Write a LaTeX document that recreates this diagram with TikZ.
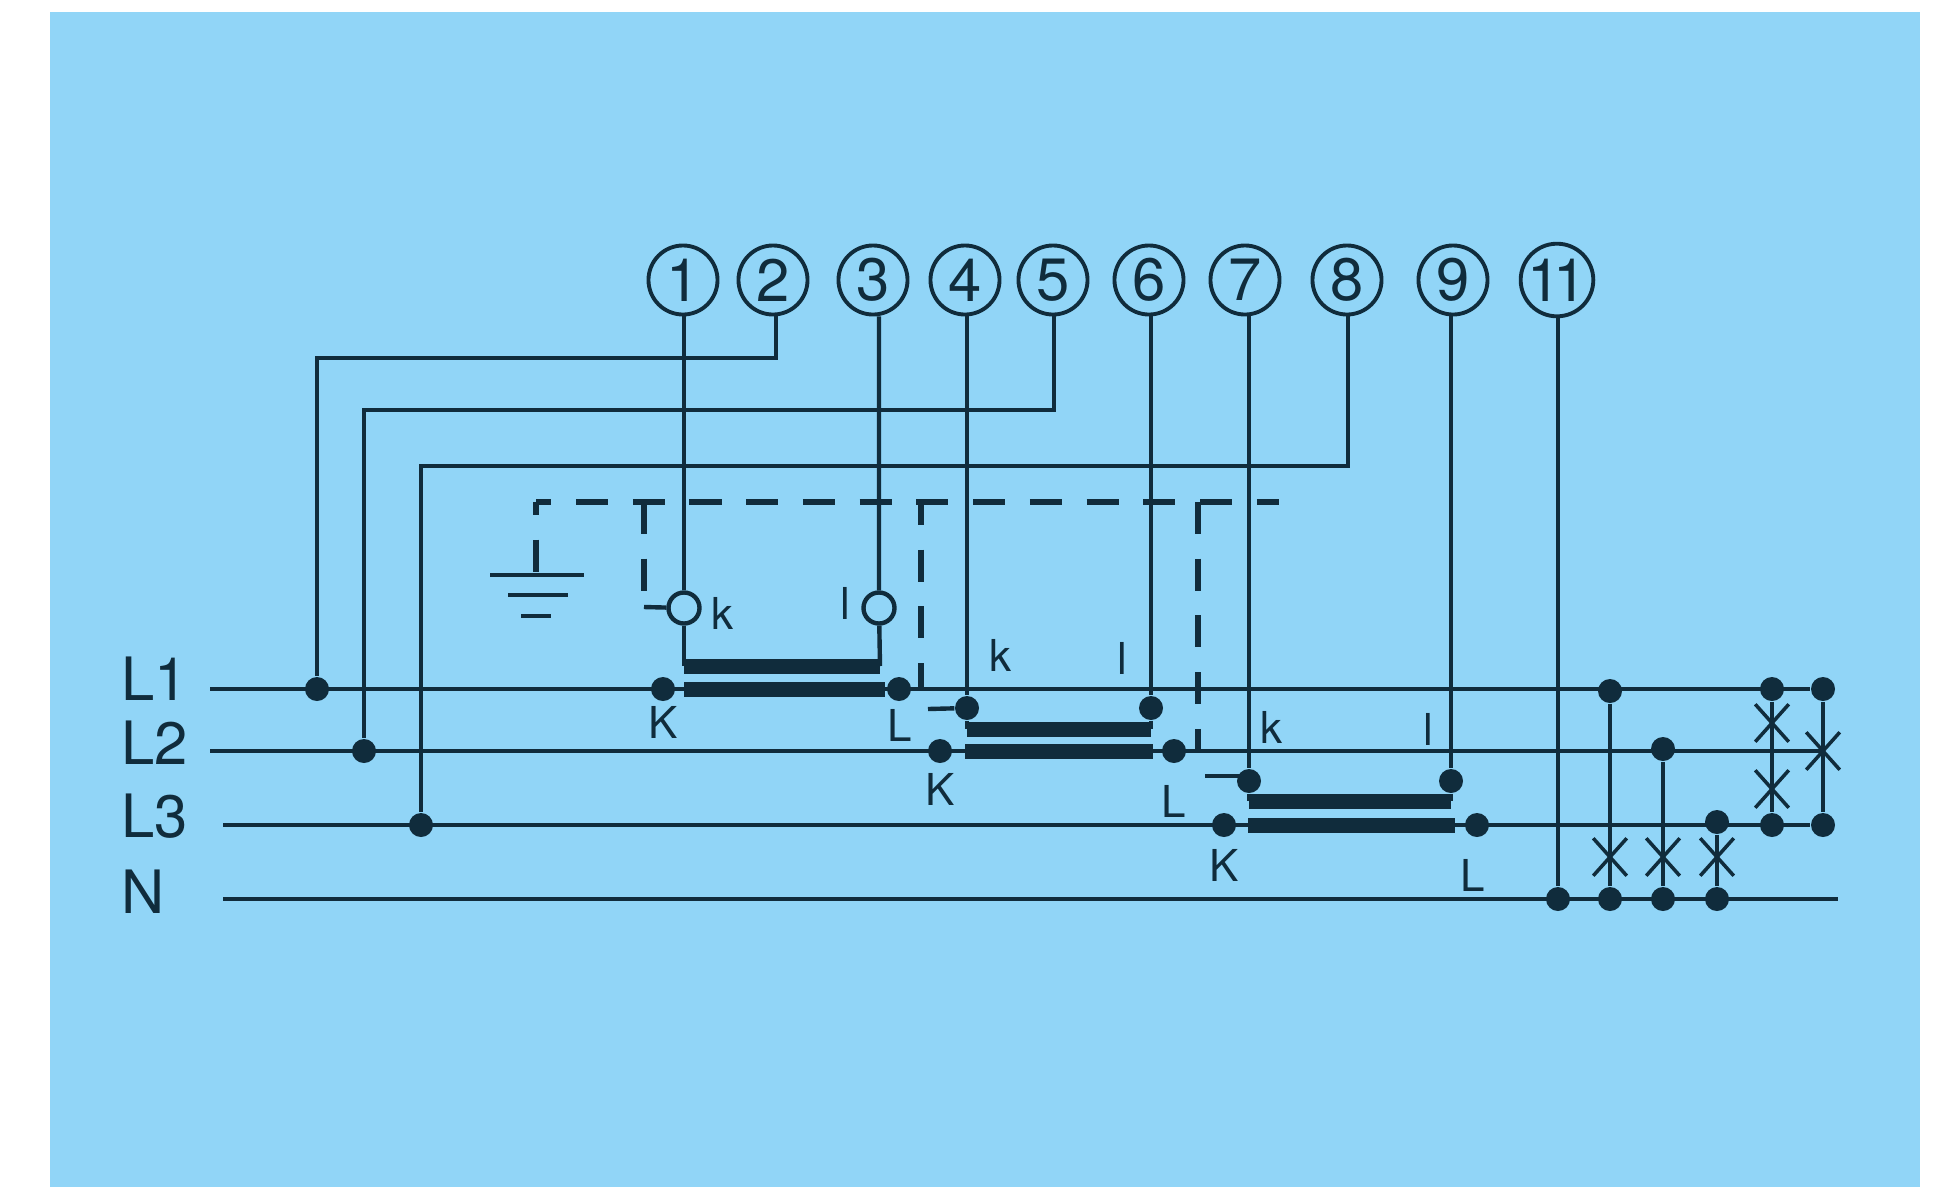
\documentclass[tikz,border=0pt]{standalone}
\usepackage{fontspec}
\setmainfont{TeX Gyre Heros}
\usetikzlibrary{shapes.misc}
\definecolor{panelblue}{RGB}{145,213,247}
\definecolor{ink}{RGB}{16,44,60}
\tikzset{
  wire/.style={draw=ink, line width=1.25pt},
  bar/.style={draw=ink, line width=0.15cm},
  dashwire/.style={draw=ink, line width=1.5pt, dash pattern=on 0.32cm off 0.247cm},
  terminal/.style={circle, draw=ink, line width=1.1pt, minimum size=0.69cm, inner sep=0pt, text=ink, font=\fontsize{17}{20}\selectfont},
  probe/.style={circle, draw=ink, line width=1.25pt, minimum size=0.31cm, inner sep=0pt},
  dot/.style={circle, fill=ink, minimum size=0.24cm, inner sep=0pt},
  fuse/.style={cross out, draw=ink, line width=1pt, minimum width=0.3cm, minimum height=0.34cm, inner sep=0pt},
  phase/.style={anchor=base west, inner sep=0pt, text=ink, font=\fontsize{17}{20}\selectfont},
  lab/.style={inner sep=0pt, text=ink, font=\fontsize{12.5}{15}\selectfont}
}
\begin{document}
\begin{tikzpicture}[x=0.01cm, y=-0.01cm]
  \useasboundingbox (0,0) rectangle (1938,1190);
  \fill[panelblue] (50,12) rectangle (1920,1187);

  % Terminals
  \node[terminal] (t1) at (683,280) {1};
  \node[terminal] (t2) at (773,280) {2};
  \node[terminal] (t3) at (873,280) {3};
  \node[terminal] (t4) at (965,280) {4};
  \node[terminal] (t5) at (1053,280) {5};
  \node[terminal] (t6) at (1149,280) {6};
  \node[terminal] (t7) at (1245,280) {7};
  \node[terminal] (t8) at (1347,280) {8};
  \node[terminal] (t9) at (1453,280) {9};
  \node[terminal] (t11) at (1557,280) {1\kern-0.12em 1};

  % Phases
  \node[phase] (nL1) at (121,700) {L1};
  \node[phase] (nL2) at (121,764) {L2};
  \node[phase] (nL3) at (121,837) {L3};
  \node[phase] (nN) at (121,913) {N};
  \coordinate (s1) at (210,689);
  \coordinate (s2) at (210,751);
  \coordinate (s3) at (223,825);
  \coordinate (sN) at (223,899);
  \coordinate (eN) at (1838,899);

  % Tap dots on the left
  \node[dot] (a1) at (317,689) {};
  \node[dot] (a2) at (364,751) {};
  \node[dot] (a3) at (421,825) {};
  \coordinate (v2) at (776,358);
  \coordinate (v5) at (1054,410);
  \coordinate (v8) at (1348,466);

  % First transformer
  \node[probe] (k1) at (684,608) {};
  \node[probe] (l1) at (879,608) {};
  \node[dot] (K1) at (663,689) {};
  \node[dot] (L1) at (899,689) {};
  \coordinate (ua1) at (684,666);
  \coordinate (ub1) at (880,666);
  \coordinate (la1) at (684,689);
  \coordinate (lb1) at (885,689);
  \node[lab] (tk1) at (722,613) {k};
  \node[lab] (tl1) at (845,603) {l};
  \node[lab] (tK1) at (663,722) {K};
  \node[lab] (tL1) at (900,725) {L};

  % Second transformer
  \node[dot] (k2) at (967,708) {};
  \node[dot] (l2) at (1151,708) {};
  \node[dot] (K2) at (940,751) {};
  \node[dot] (L2) at (1174,751) {};
  \coordinate (ua2) at (967,729);
  \coordinate (ub2) at (1151,729);
  \coordinate (la2) at (965,751);
  \coordinate (lb2) at (1153,751);
  \node[lab] (tk2) at (1000,655) {k};
  \node[lab] (tl2) at (1122,658) {l};
  \node[lab] (tK2) at (940,789) {K};
  \node[lab] (tL2) at (1174,801) {L};

  % Third transformer
  \node[dot] (k3) at (1249,781) {};
  \node[dot] (l3) at (1451,781) {};
  \node[dot] (K3) at (1224,825) {};
  \node[dot] (L3) at (1477,825) {};
  \coordinate (ua3) at (1249,801);
  \coordinate (ub3) at (1451,801);
  \coordinate (la3) at (1248,825);
  \coordinate (lb3) at (1455,825);
  \node[lab] (tk3) at (1271,727) {k};
  \node[lab] (tl3) at (1428,729) {l};
  \node[lab] (tK3) at (1224,865) {K};
  \node[lab] (tL3) at (1473,875) {L};

  % Dots and fuses on the right
  \node[dot] (n11) at (1558,899) {};
  \node[dot] (n1) at (1610,899) {};
  \node[dot] (n2) at (1663,899) {};
  \node[dot] (n3) at (1717,899) {};
  \node[dot] (p1) at (1610,691) {};
  \node[dot] (p2) at (1663,749) {};
  \node[dot] (p3) at (1717,822) {};
  \node[dot] (q1) at (1772,689) {};
  \node[dot] (q3) at (1772,825) {};
  \node[dot] (r1) at (1823,689) {};
  \node[dot] (r3) at (1823,825) {};
  \node[fuse] (f1) at (1610,857) {};
  \node[fuse] (f2) at (1663,857) {};
  \node[fuse] (f3) at (1717,857) {};
  \node[fuse] (f4) at (1772,723) {};
  \node[fuse] (f5) at (1772,789) {};
  \node[fuse] (f6) at (1823,751) {};

  % Supply lines
  \draw[wire] (s1) -- (r1);
  \draw[wire] (s2) -- (f6.center);
  \draw[wire] (s3) -- (r3);
  \draw[wire] (sN) -- (eN);

  % Voltage wires
  \draw[wire] (v2 |- t2.south) -- (v2) -| (a1);
  \draw[wire] (v5 |- t5.south) -- (v5) -| (a2);
  \draw[wire] (v8 |- t8.south) -- (v8) -| (a3);

  % Current wires
  \draw[wire] (k1 |- t1.south) -- (k1) -- (ua1);
  \draw[wire] (l1 |- t3.south) -- (l1) -- (ub1);
  \draw[wire] (k2 |- t4.south) -- (k2) -- (ua2);
  \draw[wire] (l2 |- t6.south) -- (l2) -- (ub2);
  \draw[wire] (k3 |- t7.south) -- (k3) -- (ua3);
  \draw[wire] (l3 |- t9.south) -- (l3) -- (ub3);
  \draw[wire] (n11 |- t11.south) -- (n11);

  % Transformer bars
  \draw[bar] (ua1) -- (ub1);
  \draw[bar] (la1) -- (lb1);
  \draw[bar] (ua2) -- (ub2);
  \draw[bar] (la2) -- (lb2);
  \draw[bar] (ua3) -- (ub3);
  \draw[bar] (la3) -- (lb3);

  % Right verticals
  \draw[wire] (p1) -- (n1);
  \draw[wire] (p2) -- (n2);
  \draw[wire] (p3) -- (n3);
  \draw[wire] (q1) -- (q3);
  \draw[wire] (r1) -- (r3);

  % Earth
  \coordinate (gc) at (536,502);
  \coordinate (g1) at (536,575);
  \coordinate (g1l) at (490,575);
  \coordinate (g1r) at (584,575);
  \coordinate (g2l) at (508,595);
  \coordinate (g2r) at (568,595);
  \coordinate (g3l) at (521,616);
  \coordinate (g3r) at (551,616);
  \coordinate (de) at (1279,502);
  \draw[wire] (g1l) -- (g1r);
  \draw[wire] (g2l) -- (g2r);
  \draw[wire] (g3l) -- (g3r);

  % Dashed screen
  \coordinate (d1) at (644,502);
  \coordinate (d1e) at (644,607);
  \coordinate (d2) at (921,502);
  \coordinate (d2e) at (921,689);
  \coordinate (d3) at (1198,502);
  \coordinate (d3e) at (1198,751);
  \draw[dashwire, dash phase=0.167cm] (gc) -- (de);
  \draw[dashwire, dash phase=0.19cm] (gc) -- (g1);
  \draw[dashwire] (d1) -- (d1e);
  \draw[wire] (d1e) -- (k1);
  \draw[dashwire, dash phase=0.09cm] (d2) -- (d2e);
  \draw[dashwire] (d3) -- (d3e);

  % Stubs at the secondary dots
  \coordinate (st2) at (928,709);
  \coordinate (st3) at (1205,776);
  \draw[wire] (st2) -- (k2);
  \draw[wire] (st3) -- (st3 -| k3);
\end{tikzpicture}
\end{document}
